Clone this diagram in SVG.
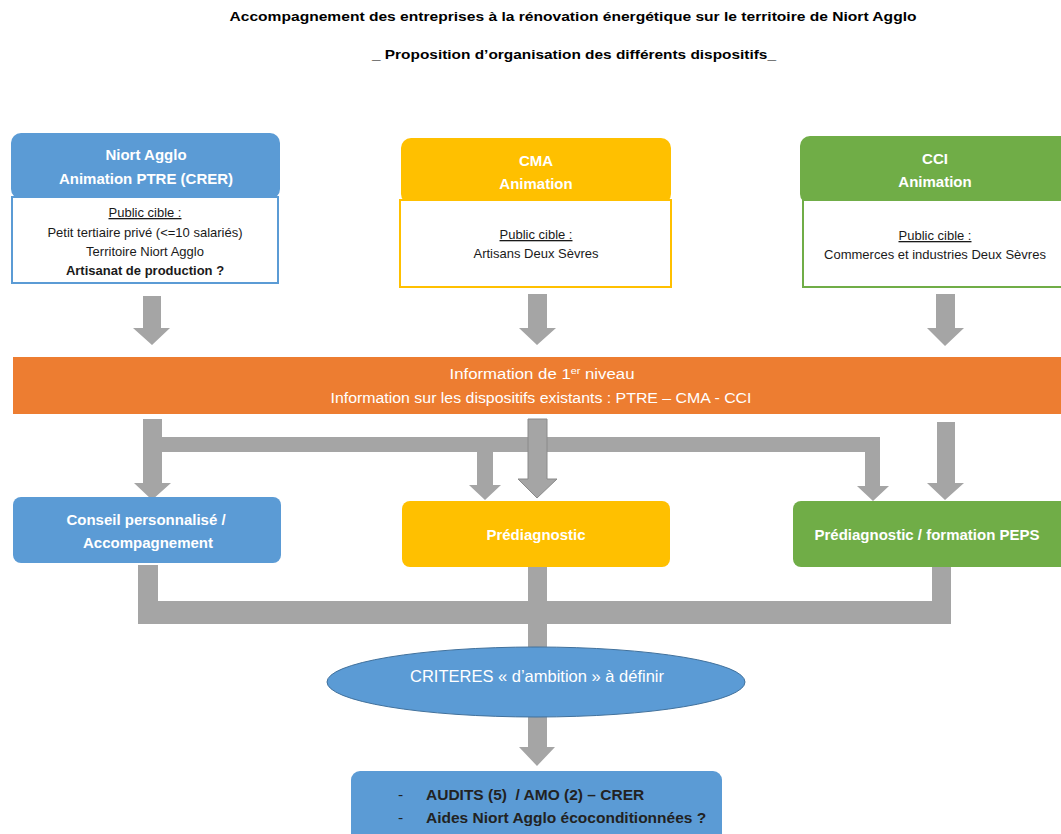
<svg xmlns="http://www.w3.org/2000/svg" width="1061" height="834" viewBox="0 0 1061 834">
<style>
text{font-family:"Liberation Sans",Arial,sans-serif}
.t{font-size:13px;font-weight:bold;fill:#000}
.h{font-size:15px;font-weight:bold;fill:#fff;text-anchor:middle}
.b{font-size:13px;fill:#1a1a1a;text-anchor:middle}
.u{text-decoration:underline}
.w{font-size:14px;fill:#fff;text-anchor:middle}
.arr{fill:#a5a5a5}
.a{font-size:15.5px;fill:#222;white-space:pre}
</style>
<rect width="1061" height="834" fill="#fff"/>
<g id="title">
<text class="t" x="573" y="21" text-anchor="middle" textLength="687" lengthAdjust="spacingAndGlyphs">Accompagnement des entreprises à la rénovation énergétique sur le territoire de Niort Agglo</text>
<text class="t" x="574" y="59" text-anchor="middle" textLength="404" lengthAdjust="spacingAndGlyphs">_ Proposition d’organisation des différents dispositifs_</text>
</g>
<g id="connectors">
<path class="arr" d="M143 296H161V328H170L152 345L133 328H143Z"/>
<path class="arr" d="M528 294H547V328H556L537 345L519 328H528Z"/>
<path class="arr" d="M936 294H955V328H964L945 346L927 328H936Z"/>
<path class="arr" d="M143 419H162V437H880V486H889L873 501L857 486H865V452H493V485H501L485 500L469 485H477V452H162V483H171L152 500L134 483H143Z"/>
<path class="arr" d="M937 422H955V483H964L945 500L927 483H937Z"/>
<path d="M528 419H547V479H557L537 498L518 479H528Z" fill="#a5a5a5" stroke="#8a8a8a" stroke-width="1"/>
<path class="arr" d="M138 565H158V601H528V567H547V601H932V567H951V624H547V647H528V624H138Z"/>
<path class="arr" d="M528 716H547V747H555L537 766L519 747H528Z"/>
</g>
<g id="niort">
<rect x="11" y="133" width="269" height="66" rx="10" fill="#5b9bd5"/>
<rect x="12" y="197" width="266" height="86" fill="#fff" stroke="#5b9bd5" stroke-width="2"/>
<text class="h" x="146" y="160">Niort Agglo</text>
<text class="h" x="146" y="184">Animation PTRE (CRER)</text>
<text class="b u" x="145" y="217">Public cible :</text>
<text class="b" x="145" y="237">Petit tertiaire privé (&lt;=10 salariés)</text>
<text class="b" x="145" y="256">Territoire Niort Agglo</text>
<text class="b" x="145" y="275" font-weight="bold">Artisanat de production ?</text>
</g>
<g id="cma">
<rect x="401" y="138" width="270" height="66" rx="10" fill="#ffc000"/>
<rect x="400" y="200" width="271" height="87" fill="#fff" stroke="#ffc000" stroke-width="2"/>
<text class="h" x="536" y="166">CMA</text>
<text class="h" x="536" y="189">Animation</text>
<text class="b u" x="536" y="239">Public cible :</text>
<text class="b" x="536" y="258">Artisans Deux Sèvres</text>
</g>
<g id="cci">
<rect x="800" y="136" width="275" height="68" rx="10" fill="#70ad47"/>
<rect x="803" y="200" width="262" height="87" fill="#fff" stroke="#70ad47" stroke-width="2"/>
<text class="h" x="935" y="164">CCI</text>
<text class="h" x="935" y="187">Animation</text>
<text class="b u" x="935" y="240">Public cible :</text>
<text class="b" x="935" y="259">Commerces et industries Deux Sèvres</text>
</g>
<g id="info">
<rect x="13" y="357" width="1048" height="57" fill="#ed7d31"/>
<text class="w" x="542" y="379" textLength="185" lengthAdjust="spacingAndGlyphs">Information de 1<tspan font-size="9" dy="-5">er</tspan><tspan dy="5"> niveau</tspan></text>
<text class="w" x="541" y="403" textLength="421" lengthAdjust="spacingAndGlyphs">Information sur les dispositifs existants : PTRE – CMA - CCI</text>
</g>
<g id="conseil">
<rect x="13" y="497" width="268" height="66" rx="8" fill="#5b9bd5"/>
<text class="h" x="146" y="525">Conseil personnalisé /</text>
<text class="h" x="148" y="548">Accompagnement</text>
</g>
<g id="prediag">
<rect x="402" y="501" width="268" height="66" rx="8" fill="#ffc000"/>
<text class="h" x="536" y="540">Prédiagnostic</text>
</g>
<g id="peps">
<rect x="793" y="501" width="280" height="66" rx="8" fill="#70ad47"/>
<text class="h" x="927" y="540">Prédiagnostic / formation PEPS</text>
</g>
<g id="criteres">
<ellipse cx="536" cy="682" rx="209" ry="35" fill="#5b9bd5" stroke="#41719c" stroke-width="1"/>
<text class="w" x="537" y="682" style="font-size:16.5px">CRITERES « d’ambition » à définir</text>
</g>
<g id="audits">
<rect x="351" y="771" width="371" height="80" rx="9" fill="#5b9bd5"/>
<text class="a" x="398" y="800">-</text>
<text class="a" x="426" y="800" font-weight="bold">AUDITS (5)  / AMO (2) – CRER</text>
<text class="a" x="398" y="823">-</text>
<text class="a" x="426" y="823" font-weight="bold">Aides Niort Agglo écoconditionnées ?</text>
</g>
</svg>
